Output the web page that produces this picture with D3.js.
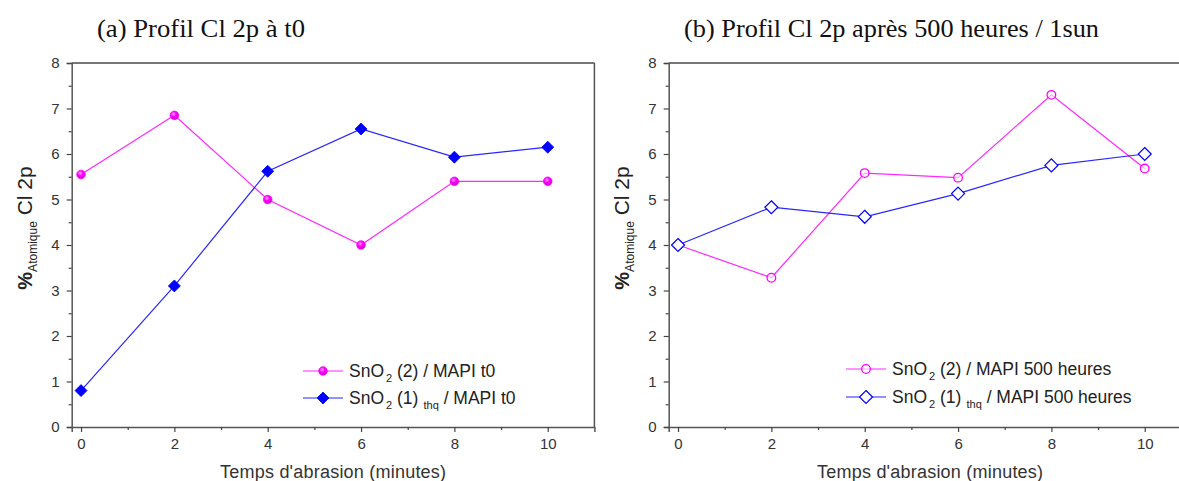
<!DOCTYPE html>
<html><head><meta charset="utf-8">
<script src="https://cdn.jsdelivr.net/npm/d3@7"></script>
<style>body{margin:0;background:#fff}svg{display:block}</style>
</head><body>
<svg id="c" width="1179" height="481"></svg>
<script>
const times = [0, 2, 4, 6, 8, 10];
const xTicks = [0, 2, 4, 6, 8, 10];
const yTicks = [0, 1, 2, 3, 4, 5, 6, 7, 8];
const t0_SnO2_2 = [5.55, 6.85, 5.0, 4.0, 5.4, 5.4];
const t0_SnO2_1thq = [0.8, 3.1, 5.62, 6.55, 5.93, 6.15];
const h500_SnO2_2 = [4.0, 3.28, 5.58, 5.48, 7.3, 5.68];
const h500_SnO2_1thq = [4.0, 4.83, 4.62, 5.13, 5.75, 6.0];
const titles = ["(a) Profil Cl 2p à t0", "(b) Profil Cl 2p après 500 heures / 1sun"];
const legendA = ["/ MAPI t0", "/ MAPI t0"];
const legendB = ["/ MAPI 500 heures", "/ MAPI 500 heures"];
const xLabel = "Temps d'abrasion (minutes)";

const svg = d3.select("#c");
const defs = svg.append("defs");
const grad = defs.append("radialGradient").attr("id","ball").attr("cx","40%").attr("cy","35%").attr("r","65%");
grad.append("stop").attr("offset","0%").attr("stop-color","#ffb0ff");
grad.append("stop").attr("offset","45%").attr("stop-color","#ff00ff");
grad.append("stop").attr("offset","100%").attr("stop-color","#d000d0");

const PINK = "#ff00ff", BLUE = "#0000ff";
const sans = "'Liberation Sans', Arial, sans-serif";
const serif = "'Liberation Serif', 'Times New Roman', serif";

function panel(cfg) {
  const x = d3.scaleLinear().domain([-0.2, 11]).range([cfg.left, cfg.left + 522.7]);
  const y = d3.scaleLinear().domain([0, 8]).range([427, 63]);
  const g = svg.append("g");

  // frame top & right
  g.append("line").attr("x1", x(-0.2)).attr("x2", x(11)).attr("y1", y(8)).attr("y2", y(8))
    .attr("stroke", "#777").attr("stroke-width", 2);
  g.append("line").attr("x1", x(11)).attr("x2", x(11)).attr("y1", y(8)).attr("y2", y(0))
    .attr("stroke", "#555").attr("stroke-width", 1.5);

  // x axis
  g.append("g").attr("transform", `translate(0,${y(0)})`)
    .call(d3.axisBottom(x).tickValues(xTicks).tickSize(5).tickPadding(6).tickFormat(d3.format("d")));
  g.append("g").attr("transform", `translate(0,${y(0)})`)
    .call(d3.axisBottom(x).tickValues([1,3,5,7,9]).tickSize(3).tickFormat(""))
    .call(s => s.select(".domain").remove());
  // y axis
  g.append("g").attr("transform", `translate(${x(-0.2)},0)`)
    .call(d3.axisLeft(y).tickValues(yTicks).tickSize(5).tickPadding(7).tickFormat(d3.format("d")));
  g.append("g").attr("transform", `translate(${x(-0.2)},0)`)
    .call(d3.axisLeft(y).tickValues([0.5,1.5,2.5,3.5,4.5,5.5,6.5,7.5]).tickSize(3).tickFormat(""))
    .call(s => s.select(".domain").remove());
  g.selectAll(".domain").attr("stroke", "#555").attr("stroke-width", 1.5);
  g.selectAll(".tick line").attr("stroke", "#444").attr("stroke-width", 1.2);
  g.selectAll(".tick text").attr("fill", "#333").style("font-family", sans).style("font-size", "15px");

  // title
  g.append("text").attr("x", cfg.titleX).attr("y", 37).attr("text-anchor", "middle")
    .style("font-family", serif).style("font-size", "26px").attr("fill", "#111")
    .attr("textLength", cfg.titleW).attr("lengthAdjust", "spacingAndGlyphs").text(cfg.title);

  // x label
  g.append("text").attr("x", x(5.4)).attr("y", 478).attr("text-anchor", "middle")
    .style("font-family", sans).style("font-size", "18px").attr("fill", "#333")
    .attr("textLength", 226).text(xLabel);

  // y label
  const yl = g.append("text").attr("transform", `translate(${cfg.yLabX},228) rotate(-90)`)
    .attr("text-anchor", "middle").style("font-family", sans).attr("fill", "#222");
  yl.append("tspan").style("font-size", "20px").style("font-weight", "bold").text("%");
  yl.append("tspan").style("font-size", "12px").attr("dy", 5).text("Atomique");
  yl.append("tspan").style("font-size", "21px").attr("dy", -5).text(" Cl 2p");

  const line = d3.line().x((d, i) => x(times[i])).y(d => y(d));
  const series = [
    {vals: cfg.s2, color: PINK, mark: "circle"},
    {vals: cfg.s1, color: BLUE, mark: "diamond"}
  ];
  series.forEach(s => {
    g.append("path").datum(s.vals).attr("d", line).attr("fill", "none")
      .attr("stroke", s.color).attr("stroke-width", 1.2).attr("stroke-opacity", 0.85);
  });
  function marker(sel, type, color, filled) {
    if (type === "circle") {
      sel.append("circle").attr("r", 4.3)
        .attr("fill", filled ? "url(#ball)" : "#fff").attr("fill-opacity", filled ? 1 : 0.6)
        .attr("stroke", color).attr("stroke-width", filled ? 0.8 : 1.3);
    } else {
      const r = filled ? 6 : 6.5;
      sel.append("path").attr("d", `M0,${-r}L${r},0L0,${r}L${-r},0Z`)
        .attr("fill", filled ? color : "#fff").attr("stroke", color).attr("stroke-width", filled ? 0.8 : 1.2);
    }
  }
  series.forEach(s => {
    s.vals.forEach((v, i) => {
      const m = g.append("g").attr("transform", `translate(${x(times[i])},${y(v)})`);
      marker(m, s.mark, s.color, cfg.filled);
    });
  });

  // legend
  const rows = [
    {color: PINK, mark: "circle", num: "(2)", sub: null, rest: cfg.leg[0], y: cfg.legY[0]},
    {color: BLUE, mark: "diamond", num: "(1)", sub: "thq", rest: cfg.leg[1], y: cfg.legY[1]}
  ];
  rows.forEach(r => {
    const lg = g.append("g");
    lg.append("line").attr("x1", cfg.legX).attr("x2", cfg.legX + 40).attr("y1", r.y).attr("y2", r.y)
      .attr("stroke", r.color).attr("stroke-width", 1.2).attr("stroke-opacity", 0.85);
    const m = lg.append("g").attr("transform", `translate(${cfg.legX + 20},${r.y})`);
    marker(m, r.mark, r.color, cfg.filled);
    const t = lg.append("text").attr("x", cfg.legX + 46).attr("y", r.y + 6)
      .style("font-family", sans).style("font-size", "17.5px").attr("fill", "#222");
    t.append("tspan").text("SnO");
    t.append("tspan").attr("dx", 2).attr("dy", 5).style("font-size", "11px").text("2");
    t.append("tspan").attr("dy", -5).text(" " + r.num);
    if (r.sub) {
      t.append("tspan").attr("dx", 2).attr("dy", 5).style("font-size", "11px").text(" thq");
      t.append("tspan").attr("dy", -5).text(" " + r.rest);
    } else {
      t.append("tspan").text(" " + r.rest);
    }
  });
}

panel({left: 71.7, title: titles[0], titleX: 201, titleW: 208, yLabX: 32, s2: t0_SnO2_2, s1: t0_SnO2_1thq,
  filled: true, leg: legendA, legX: 303, legY: [371, 398]});
panel({left: 668.7, title: titles[1], titleX: 891.5, titleW: 415, yLabX: 629, s2: h500_SnO2_2, s1: h500_SnO2_1thq,
  filled: false, leg: legendB, legX: 846, legY: [369, 397]});
</script>
</body></html>
